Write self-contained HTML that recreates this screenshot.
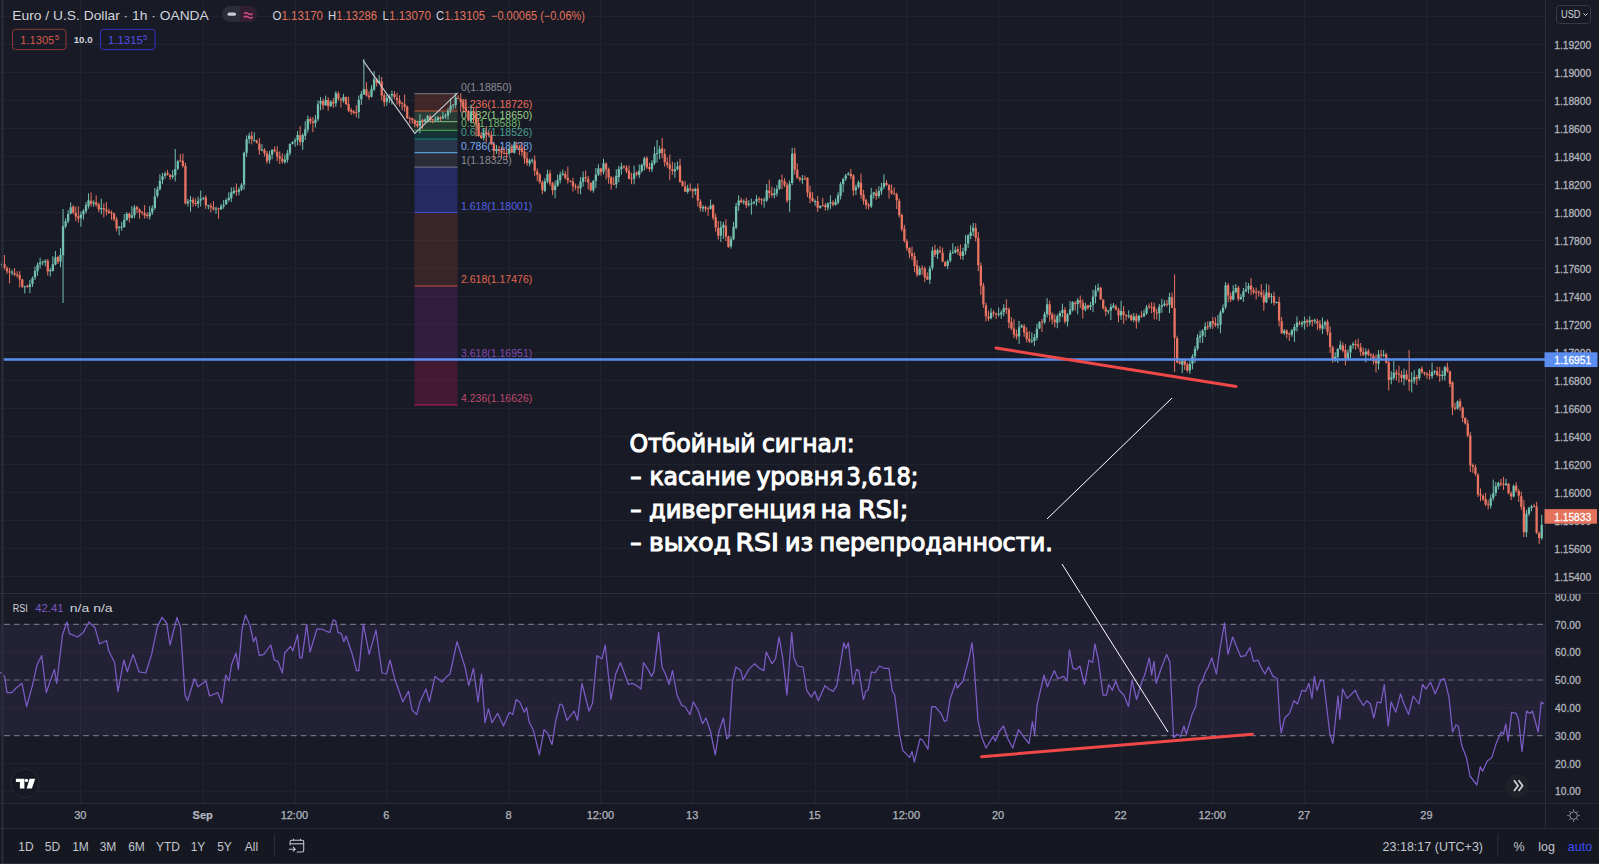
<!DOCTYPE html><html><head><meta charset="utf-8"><style>
html,body{margin:0;padding:0;background:#181a25;width:1599px;height:864px;overflow:hidden}
svg{display:block}
text{font-family:"Liberation Sans", "DejaVu Sans", sans-serif}
</style></head><body>
<svg width="1599" height="864" viewBox="0 0 1599 864">
<rect x="0" y="0" width="1599" height="864" fill="#181a25"/>

<path d="M0 16.6H1545.5 M0 44.6H1545.5 M0 72.6H1545.5 M0 100.6H1545.5 M0 128.6H1545.5 M0 156.6H1545.5 M0 184.6H1545.5 M0 212.6H1545.5 M0 240.6H1545.5 M0 268.6H1545.5 M0 296.6H1545.5 M0 324.6H1545.5 M0 352.6H1545.5 M0 380.6H1545.5 M0 408.6H1545.5 M0 436.6H1545.5 M0 464.6H1545.5 M0 492.6H1545.5 M0 520.6H1545.5 M0 548.6H1545.5 M0 576.6H1545.5 M80.5 0V593.5 M203.5 0V593.5 M295.5 0V593.5 M386.5 0V593.5 M509.5 0V593.5 M600.5 0V593.5 M692.5 0V593.5 M815.5 0V593.5 M906.5 0V593.5 M998.5 0V593.5 M1121.5 0V593.5 M1212.5 0V593.5 M1304.5 0V593.5 M1426.5 0V593.5 M0 596.6H1545.5 M0 624.4H1545.5 M0 652.2H1545.5 M0 680.0H1545.5 M0 707.8H1545.5 M0 735.6H1545.5 M0 763.4H1545.5 M0 791.2H1545.5 M80.5 593.5V803.3 M203.5 593.5V803.3 M295.5 593.5V803.3 M386.5 593.5V803.3 M509.5 593.5V803.3 M600.5 593.5V803.3 M692.5 593.5V803.3 M815.5 593.5V803.3 M906.5 593.5V803.3 M998.5 593.5V803.3 M1121.5 593.5V803.3 M1212.5 593.5V803.3 M1304.5 593.5V803.3 M1426.5 593.5V803.3" stroke="#22242f" stroke-width="1" fill="none"/>
<rect x="0" y="624.4" width="1545.5" height="111.2" fill="#7e57c2" fill-opacity="0.11"/>
<line x1="0" y1="624.4" x2="1545.5" y2="624.4" stroke="#6e7082" stroke-width="1.1" stroke-dasharray="5.6 4.29" stroke-dashoffset="5.78"/>
<line x1="0" y1="680.0" x2="1545.5" y2="680.0" stroke="#6e7082" stroke-width="1.1" stroke-dasharray="5.6 4.29" stroke-dashoffset="5.78"/>
<line x1="0" y1="735.6" x2="1545.5" y2="735.6" stroke="#6e7082" stroke-width="1.1" stroke-dasharray="5.6 4.29" stroke-dashoffset="5.78"/>
<rect x="414.5" y="93.6" width="43.0" height="17.4" fill="#e8603a" fill-opacity="0.2"/>
<rect x="414.5" y="111.0" width="43.0" height="10.6" fill="#81c784" fill-opacity="0.2"/>
<rect x="414.5" y="121.6" width="43.0" height="8.7" fill="#4caf50" fill-opacity="0.2"/>
<rect x="414.5" y="130.3" width="43.0" height="8.7" fill="#089981" fill-opacity="0.2"/>
<rect x="414.5" y="139.0" width="43.0" height="13.7" fill="#64b5f6" fill-opacity="0.2"/>
<rect x="414.5" y="152.7" width="43.0" height="14.4" fill="#787b86" fill-opacity="0.2"/>
<rect x="414.5" y="167.1" width="43.0" height="45.4" fill="#4452f0" fill-opacity="0.3"/>
<rect x="414.5" y="212.5" width="43.0" height="73.5" fill="#e8603a" fill-opacity="0.17"/>
<rect x="414.5" y="286.0" width="43.0" height="73.5" fill="#9c27b0" fill-opacity="0.2"/>
<rect x="414.5" y="359.5" width="43.0" height="45.5" fill="#e91e63" fill-opacity="0.2"/>
<line x1="414.5" y1="93.6" x2="457.5" y2="93.6" stroke="#787b86" stroke-width="1.2" stroke-opacity="0.8"/>
<line x1="414.5" y1="111.0" x2="457.5" y2="111.0" stroke="#e8603a" stroke-width="1.2" stroke-opacity="0.8"/>
<line x1="414.5" y1="121.6" x2="457.5" y2="121.6" stroke="#81c784" stroke-width="1.2" stroke-opacity="0.8"/>
<line x1="414.5" y1="130.3" x2="457.5" y2="130.3" stroke="#4caf50" stroke-width="1.2" stroke-opacity="0.8"/>
<line x1="414.5" y1="139.0" x2="457.5" y2="139.0" stroke="#089981" stroke-width="1.2" stroke-opacity="0.8"/>
<line x1="414.5" y1="152.7" x2="457.5" y2="152.7" stroke="#64b5f6" stroke-width="1.2" stroke-opacity="0.8"/>
<line x1="414.5" y1="167.1" x2="457.5" y2="167.1" stroke="#787b86" stroke-width="1.2" stroke-opacity="0.8"/>
<line x1="414.5" y1="212.5" x2="457.5" y2="212.5" stroke="#4452f0" stroke-width="1.2" stroke-opacity="0.8"/>
<line x1="414.5" y1="286.0" x2="457.5" y2="286.0" stroke="#e8603a" stroke-width="1.2" stroke-opacity="0.8"/>
<line x1="414.5" y1="359.5" x2="457.5" y2="359.5" stroke="#9c27b0" stroke-width="1.2" stroke-opacity="0.8"/>
<line x1="414.5" y1="405.0" x2="457.5" y2="405.0" stroke="#e91e63" stroke-width="1.2" stroke-opacity="0.8"/>
<text x="461" y="90.6" font-size="10.5" fill="#8a8d98">0(1.18850)</text>
<text x="461" y="108.0" font-size="10.5" fill="#e8705d">0.236(1.18726)</text>
<text x="461" y="118.6" font-size="10.5" fill="#9bd08a">0.382(1.18650)</text>
<text x="461" y="127.3" font-size="10.5" fill="#6cb86a">0.5(1.18588)</text>
<text x="461" y="136.0" font-size="10.5" fill="#4aa090">0.618(1.18526)</text>
<text x="461" y="149.7" font-size="10.5" fill="#7aaef2">0.786(1.18428)</text>
<text x="461" y="164.1" font-size="10.5" fill="#8a8d98">1(1.18325)</text>
<text x="461" y="209.5" font-size="10.5" fill="#5262ea">1.618(1.18001)</text>
<text x="461" y="283.0" font-size="10.5" fill="#e0684f">2.618(1.17476)</text>
<text x="461" y="356.5" font-size="10.5" fill="#8448b0">3.618(1.16951)</text>
<text x="461" y="402.0" font-size="10.5" fill="#bf4a6c">4.236(1.16626)</text>
<path d="M1.87 262.55V267.54M12.07 269.73V275.42M24.81 285.68V293.44M29.91 279.79V293.16M32.46 276.43V286.90M35.01 266.58V279.98M37.56 262.35V275.64M40.11 257.78V268.52M42.66 260.73V265.27M45.21 259.31V266.28M50.31 267.77V276.46M52.86 256.22V271.57M55.41 250.95V265.38M60.50 248.18V267.43M63.05 209.00V303.00M65.60 218.30V228.18M68.15 210.21V223.22M70.70 202.34V214.29M80.90 211.32V226.67M83.45 209.04V219.54M86.00 202.13V213.56M88.55 193.36V208.60M93.65 200.37V206.79M101.30 198.74V214.26M119.14 226.05V235.38M121.69 221.71V230.64M124.24 214.04V227.68M126.79 212.17V220.84M131.89 206.10V218.49M134.44 204.93V218.36M149.73 206.08V219.53M152.28 205.32V214.99M154.83 187.99V209.89M157.38 186.27V197.70M159.93 174.13V190.62M162.48 172.83V184.04M165.03 171.62V178.67M172.68 170.01V179.12M175.23 149.00V181.40M177.78 159.83V170.13M187.97 198.94V206.54M190.52 195.83V211.79M198.17 196.58V207.80M200.72 190.41V206.60M203.27 196.95V199.93M208.37 204.71V209.40M216.02 206.68V213.80M221.12 203.80V209.96M223.67 199.86V208.69M226.22 198.40V204.83M228.77 192.35V201.71M231.31 187.46V201.98M233.86 187.22V194.44M238.96 187.34V195.20M241.51 183.13V190.97M244.06 151.76V189.68M246.61 135.37V156.92M249.16 132.74V143.67M254.26 132.18V141.82M261.91 144.23V151.35M269.56 150.76V163.52M272.11 149.10V159.17M284.85 154.50V164.03M287.40 149.78V162.65M289.95 143.39V155.67M292.50 141.34V144.43M295.05 138.17V146.60M297.60 131.06V145.44M302.70 133.31V149.77M305.25 121.25V139.88M307.80 115.53V132.74M315.44 114.99V127.48M317.99 100.26V121.25M320.54 97.02V110.22M325.64 95.61V105.75M330.74 100.34V107.17M335.84 91.08V106.87M343.49 93.93V102.67M358.78 95.48V118.45M361.33 91.13V104.95M363.88 59.00V94.96M371.53 85.17V97.48M374.08 71.21V91.15M379.18 74.99V83.86M386.83 94.89V105.72M389.38 94.28V103.10M391.93 90.73V104.55M419.97 114.02V133.36M425.07 118.42V122.20M427.62 114.94V121.55M435.27 116.27V121.60M437.82 116.02V120.82M442.91 111.98V119.05M445.46 113.50V118.81M448.01 108.07V119.52M450.56 98.34V113.16M453.11 104.21V109.47M455.66 93.00V108.52M470.96 104.59V122.73M483.71 128.00V140.63M496.45 144.90V153.91M509.20 146.67V155.50M514.30 141.31V153.62M529.59 158.72V166.45M532.14 158.41V163.39M544.89 178.19V192.19M547.44 169.71V183.39M555.09 180.77V198.14M557.64 174.54V186.80M560.19 171.64V183.40M562.74 169.59V175.80M580.58 177.06V194.40M583.13 171.45V186.63M593.33 179.86V192.77M595.88 168.02V187.98M598.43 164.25V175.95M603.53 158.66V174.38M616.27 169.18V188.13M618.82 165.75V182.21M621.37 162.59V174.78M634.12 165.68V184.33M639.22 164.53V178.16M641.77 163.59V172.83M644.32 156.69V170.50M651.97 160.14V172.08M654.51 146.55V165.00M657.06 140.00V162.62M659.61 145.87V159.42M674.91 162.62V177.90M677.46 161.44V170.33M687.66 184.77V193.71M695.31 187.63V194.95M702.95 205.19V211.94M710.60 199.49V209.70M720.80 221.18V241.91M723.35 221.76V238.91M731.00 236.18V248.60M733.55 221.75V240.16M736.10 203.01V229.23M738.65 195.33V211.01M743.74 199.47V204.46M748.84 200.04V206.53M751.39 198.57V214.54M753.94 201.20V204.47M756.49 195.14V205.80M764.14 197.67V207.71M766.69 184.06V201.86M774.34 187.94V198.40M776.89 185.22V196.60M779.44 179.31V189.91M789.63 180.47V211.84M792.18 147.80V185.03M802.38 175.09V183.97M815.13 199.49V205.71M820.23 205.28V208.77M827.87 202.44V210.58M830.42 195.22V209.07M835.52 198.59V205.67M838.07 192.25V204.39M840.62 182.03V199.50M843.17 177.77V192.34M845.72 173.87V181.06M848.27 171.87V175.46M855.92 184.78V194.85M858.47 180.54V188.48M871.21 187.88V207.96M873.76 191.83V198.56M878.86 186.28V198.35M881.41 182.83V194.86M883.96 174.34V189.15M919.65 266.28V275.52M929.85 265.73V283.91M932.40 246.83V270.27M937.50 248.55V258.80M947.70 259.59V269.13M950.25 250.05V262.49M952.79 243.29V254.03M955.34 246.50V253.28M962.99 247.70V260.04M965.54 234.95V254.68M968.09 234.05V248.08M970.64 225.10V239.25M973.19 222.75V236.17M991.04 308.28V319.35M998.68 307.65V316.56M1001.23 310.27V318.87M1003.78 304.24V316.32M1019.08 320.90V343.91M1021.63 324.13V328.15M1031.83 332.28V343.19M1034.38 333.97V345.96M1036.92 323.66V340.39M1039.47 321.16V329.04M1044.57 311.59V323.88M1047.12 298.12V317.24M1057.32 314.35V328.22M1059.87 310.97V322.24M1062.42 303.68V317.24M1067.52 312.97V326.53M1070.07 301.13V315.28M1072.62 301.16V311.57M1077.72 298.22V314.42M1085.36 302.45V311.45M1090.46 301.92V310.04M1093.01 289.78V312.23M1095.56 285.40V303.42M1098.11 283.47V291.93M1108.31 309.86V314.41M1110.86 303.70V320.19M1113.41 303.02V308.26M1121.06 300.81V319.93M1128.70 310.36V318.42M1133.80 313.00V322.34M1138.90 314.72V322.89M1144.00 309.65V317.12M1146.55 305.03V314.88M1159.30 303.91V320.97M1161.85 298.91V312.71M1164.39 300.12V306.44M1169.49 292.76V313.10M1182.24 360.06V373.15M1189.89 360.02V373.99M1192.44 354.22V369.43M1194.99 345.86V362.95M1197.54 334.06V350.74M1200.09 330.64V342.86M1202.64 329.13V343.00M1205.19 322.35V337.12M1210.28 321.13V328.96M1217.93 315.14V328.47M1220.48 310.23V333.24M1223.03 304.33V313.48M1225.58 281.96V309.24M1233.23 285.11V300.30M1235.78 283.99V293.36M1240.88 294.00V299.77M1243.43 287.96V301.90M1245.98 282.19V292.21M1248.53 283.08V293.63M1266.37 283.73V303.15M1271.47 293.42V303.54M1276.57 301.49V303.52M1284.22 329.17V335.19M1291.87 329.18V336.83M1294.41 323.87V341.93M1296.96 316.37V331.57M1302.06 320.78V327.20M1304.61 316.62V329.60M1309.71 316.24V325.71M1314.81 318.46V323.80M1322.46 317.47V334.06M1325.01 320.64V329.27M1335.20 352.31V361.91M1337.75 347.92V362.99M1340.30 340.81V350.09M1347.95 349.33V359.56M1350.50 344.80V358.31M1353.05 342.06V348.93M1365.80 348.53V362.48M1378.54 350.06V369.56M1383.64 350.14V356.91M1391.29 371.41V384.27M1393.84 361.01V380.25M1404.04 368.61V385.37M1411.69 371.98V392.40M1414.24 370.27V383.71M1419.34 368.13V380.49M1432.08 362.42V378.81M1434.63 370.08V374.66M1442.28 370.44V380.29M1444.83 365.66V380.59M1457.58 400.31V409.63M1490.72 494.41V508.50M1493.27 479.57V500.66M1495.82 482.02V495.94M1498.37 481.60V489.45M1506.01 478.81V486.13M1513.66 484.36V497.46M1526.41 510.09V537.15M1528.96 506.68V515.97M1531.51 504.77V511.27M1541.71 514.79V539.90" stroke="#72c0af" stroke-width="1" fill="none"/>
<path d="M4.42 255.02V269.54M6.97 266.18V273.95M9.52 267.78V283.37M14.62 268.16V276.28M17.17 271.23V277.67M19.71 271.17V287.49M22.26 278.81V288.07M27.36 284.70V287.86M47.76 258.99V275.59M57.96 255.95V264.02M73.25 205.01V214.15M75.80 206.52V220.91M78.35 206.20V222.53M91.10 192.43V206.69M96.20 195.46V206.63M98.75 202.68V212.07M103.84 203.39V217.44M106.39 202.07V215.38M108.94 208.60V213.93M111.49 210.52V219.73M114.04 212.69V221.20M116.59 216.92V231.37M129.34 212.78V222.50M136.99 205.72V213.29M139.54 208.44V218.80M142.09 211.30V214.84M144.64 205.05V218.59M147.18 212.31V218.42M167.58 169.84V175.70M170.13 174.02V179.89M180.33 154.06V162.05M182.88 153.67V167.61M185.43 162.78V204.39M193.07 197.38V206.72M195.62 198.48V206.02M205.82 195.04V208.84M210.92 203.07V212.42M213.47 201.15V210.61M218.57 207.67V218.78M236.41 183.43V195.94M251.71 131.32V144.37M256.81 139.70V143.76M259.36 137.98V154.67M264.46 148.26V156.54M267.01 150.90V163.70M274.65 146.49V152.50M277.20 145.98V161.41M279.75 151.44V164.04M282.30 153.27V163.40M300.15 126.03V145.53M310.35 116.77V124.44M312.90 117.02V132.17M323.09 98.59V109.62M328.19 97.38V110.71M333.29 97.88V107.80M338.39 91.49V100.75M340.94 97.55V107.59M346.04 96.39V104.84M348.59 96.66V112.19M351.14 108.03V114.92M353.69 110.04V114.52M356.24 105.27V117.27M366.43 82.19V96.70M368.98 91.31V99.63M376.63 77.76V86.53M381.73 76.86V100.29M384.28 93.19V106.50M394.48 91.29V99.24M397.03 92.70V104.80M399.57 95.37V106.72M402.12 102.09V110.17M404.67 94.53V111.67M407.22 105.50V119.02M409.77 116.69V123.84M412.32 117.66V123.53M414.87 119.20V127.21M417.42 120.77V127.68M422.52 118.72V128.88M430.17 114.67V121.82M432.72 118.84V123.28M440.37 116.12V121.68M458.21 95.28V99.09M460.76 93.00V112.36M463.31 98.87V112.60M465.86 98.61V112.28M468.41 110.03V121.60M473.51 107.67V122.25M476.06 106.85V136.40M478.61 118.48V136.74M481.16 132.16V138.76M486.25 126.53V142.22M488.80 131.43V136.60M491.35 130.77V144.97M493.90 143.31V160.03M499.00 145.97V155.62M501.55 146.82V157.59M504.10 147.30V154.47M506.65 149.72V159.21M511.75 144.61V153.04M516.85 141.84V149.81M519.40 144.88V155.22M521.95 141.87V155.81M524.50 146.40V163.84M527.04 152.20V165.86M534.69 155.36V175.83M537.24 168.36V181.20M539.79 173.14V183.85M542.34 180.39V194.29M549.99 170.20V185.79M552.54 181.90V195.16M565.29 171.00V179.59M567.84 166.56V183.67M570.38 180.34V182.26M572.93 177.67V191.58M575.48 183.62V189.86M578.03 184.81V193.78M585.68 170.48V181.91M588.23 175.96V189.50M590.78 182.00V191.48M600.98 167.81V175.66M606.08 162.42V179.59M608.63 167.62V183.79M611.18 176.02V189.59M613.72 176.93V184.97M623.92 165.03V168.58M626.47 165.30V173.14M629.02 165.47V179.43M631.57 172.94V184.21M636.67 171.37V176.33M646.87 156.18V169.19M649.42 162.74V171.51M662.16 137.92V158.31M664.71 148.72V166.39M667.26 157.30V167.71M669.81 154.45V180.22M672.36 161.84V174.87M680.01 158.66V182.79M682.56 180.42V186.65M685.11 181.07V192.12M690.21 183.38V191.38M692.76 188.34V198.04M697.85 183.33V206.59M700.40 199.18V211.34M705.50 205.52V211.63M708.05 206.55V215.87M713.15 204.13V220.09M715.70 213.71V231.67M718.25 220.90V239.53M725.90 219.32V241.12M728.45 235.45V247.80M741.19 197.70V203.16M746.29 197.74V208.17M759.04 196.81V203.02M761.59 198.28V204.88M769.24 179.72V198.25M771.79 186.62V197.15M781.99 174.54V189.09M784.53 178.03V187.08M787.08 182.52V202.77M794.73 147.74V174.59M797.28 163.34V178.99M799.83 176.60V181.66M804.93 175.50V179.77M807.48 177.27V197.08M810.03 185.72V203.37M812.58 191.94V202.08M817.68 195.92V212.01M822.78 197.69V206.31M825.32 202.95V210.54M832.97 200.22V206.56M850.82 168.86V179.07M853.37 174.22V196.04M861.02 173.53V198.70M863.57 189.81V204.55M866.12 198.70V208.96M868.66 202.98V209.50M876.31 188.84V199.69M886.51 180.25V186.11M889.06 184.03V198.65M891.61 184.41V194.69M894.16 187.39V195.14M896.71 192.70V209.00M899.26 198.70V217.37M901.81 213.74V231.37M904.36 224.78V242.56M906.91 239.08V250.91M909.45 247.17V258.30M912.00 246.60V259.94M914.55 252.57V272.13M917.10 259.96V276.83M922.20 265.50V274.78M924.75 266.55V282.06M927.30 272.30V279.94M934.95 244.81V257.03M940.05 245.97V253.23M942.60 247.48V262.50M945.15 261.07V266.87M957.89 245.90V254.72M960.44 244.55V259.25M975.74 223.14V241.52M978.29 231.90V271.09M980.84 262.54V294.87M983.39 282.81V307.96M985.94 302.80V321.41M988.49 310.71V321.00M993.59 310.26V316.78M996.13 312.61V319.10M1006.33 299.22V313.96M1008.88 307.61V328.24M1011.43 317.01V330.28M1013.98 319.33V338.13M1016.53 329.74V339.50M1024.18 323.91V336.80M1026.73 327.41V342.31M1029.28 331.06V342.98M1042.02 318.85V332.12M1049.67 300.68V321.66M1052.22 312.32V324.49M1054.77 314.28V327.36M1064.97 307.12V323.74M1075.17 300.97V310.70M1080.26 295.49V307.88M1082.81 299.39V318.57M1087.91 304.70V309.71M1100.66 286.76V300.05M1103.21 298.92V309.50M1105.76 306.13V316.11M1115.96 304.48V310.47M1118.51 307.80V322.35M1123.60 306.10V323.85M1126.15 314.16V320.56M1131.25 314.25V321.18M1136.35 313.41V328.67M1141.45 311.11V317.75M1149.10 303.38V308.94M1151.65 302.07V313.26M1154.20 302.70V319.59M1156.75 308.73V319.38M1166.94 299.78V306.66M1172.04 292.60V308.27M1174.59 274.40V372.00M1177.14 335.69V363.19M1179.69 360.39V364.69M1184.79 359.74V370.00M1187.34 362.49V372.36M1207.73 321.44V329.73M1212.83 316.95V328.92M1215.38 317.29V326.99M1228.13 282.92V302.30M1230.68 292.25V302.05M1238.33 285.75V301.14M1251.07 277.92V295.31M1253.62 287.55V294.32M1256.17 287.51V299.49M1258.72 290.41V296.65M1261.27 284.19V297.70M1263.82 290.00V310.93M1268.92 284.78V298.81M1274.02 291.70V305.50M1279.12 296.81V326.49M1281.67 317.06V334.06M1286.77 329.24V338.27M1289.32 332.39V340.90M1299.51 320.92V325.13M1307.16 318.95V327.16M1312.26 319.42V326.36M1317.36 318.68V329.78M1319.91 319.95V330.61M1327.56 319.51V335.39M1330.11 326.39V352.98M1332.66 345.70V362.86M1342.85 342.57V352.36M1345.40 344.14V365.44M1355.60 339.81V349.82M1358.15 338.60V348.61M1360.70 343.06V356.19M1363.25 347.48V356.29M1368.35 348.95V356.34M1370.90 353.28V359.44M1373.45 353.58V364.44M1376.00 354.37V372.47M1381.09 349.55V358.95M1386.19 352.81V363.60M1388.74 358.01V390.48M1396.39 369.63V380.47M1398.94 365.71V382.72M1401.49 370.78V382.45M1406.59 369.97V380.37M1409.14 350.00V390.83M1416.79 375.04V384.94M1421.88 366.17V373.79M1424.43 371.77V375.63M1426.98 372.17V378.72M1429.53 370.02V379.65M1437.18 366.63V376.48M1439.73 366.96V381.91M1447.38 362.59V372.75M1449.93 370.61V387.13M1452.48 381.35V415.12M1455.03 402.72V410.32M1460.13 398.56V410.92M1462.67 406.83V422.18M1465.22 417.18V424.53M1467.77 419.93V437.18M1470.32 432.04V472.04M1472.87 463.51V472.76M1475.42 464.60V475.91M1477.97 472.84V497.00M1480.52 488.48V501.30M1483.07 493.90V500.79M1485.62 492.93V506.20M1488.17 499.95V509.49M1500.92 478.94V486.18M1503.47 476.73V490.10M1508.56 482.96V494.45M1511.11 491.44V500.18M1516.21 482.20V492.37M1518.76 488.96V501.99M1521.31 491.69V509.76M1523.86 500.06V537.00M1534.06 503.71V507.32M1536.61 501.83V533.98M1539.16 531.50V544.00" stroke="#e97461" stroke-width="1" fill="none"/>
<path d="M0.72 264.10h2.3V265.10h-2.3ZM10.92 271.81h2.3V272.81h-2.3ZM23.66 286.29h2.3V287.35h-2.3ZM28.76 284.26h2.3V286.92h-2.3ZM31.31 278.21h2.3V283.90h-2.3ZM33.86 271.03h2.3V277.60h-2.3ZM36.41 264.65h2.3V271.23h-2.3ZM38.96 262.45h2.3V264.56h-2.3ZM41.51 261.56h2.3V262.56h-2.3ZM44.06 260.79h2.3V262.28h-2.3ZM49.16 269.93h2.3V271.35h-2.3ZM51.71 264.32h2.3V270.83h-2.3ZM54.26 257.28h2.3V264.41h-2.3ZM59.35 254.94h2.3V261.47h-2.3ZM61.90 226.33h2.3V255.20h-2.3ZM64.45 221.15h2.3V226.41h-2.3ZM67.00 214.09h2.3V221.35h-2.3ZM69.55 207.14h2.3V213.68h-2.3ZM79.75 214.53h2.3V218.36h-2.3ZM82.30 210.93h2.3V214.44h-2.3ZM84.85 205.18h2.3V211.13h-2.3ZM87.40 200.36h2.3V205.95h-2.3ZM92.50 202.52h2.3V203.69h-2.3ZM100.15 208.02h2.3V209.14h-2.3ZM117.99 226.67h2.3V227.87h-2.3ZM120.54 226.85h2.3V227.85h-2.3ZM123.09 220.02h2.3V226.96h-2.3ZM125.64 213.78h2.3V219.99h-2.3ZM130.74 215.27h2.3V217.72h-2.3ZM133.29 207.46h2.3V215.17h-2.3ZM148.58 212.56h2.3V216.18h-2.3ZM151.13 208.35h2.3V212.44h-2.3ZM153.68 196.38h2.3V207.99h-2.3ZM156.23 189.23h2.3V195.79h-2.3ZM158.78 180.66h2.3V189.36h-2.3ZM161.33 176.20h2.3V180.05h-2.3ZM163.88 173.78h2.3V175.72h-2.3ZM171.53 175.21h2.3V177.00h-2.3ZM174.08 168.90h2.3V175.37h-2.3ZM176.63 161.31h2.3V168.84h-2.3ZM186.82 201.53h2.3V203.28h-2.3ZM189.37 200.05h2.3V201.52h-2.3ZM197.02 200.79h2.3V203.67h-2.3ZM199.57 198.89h2.3V200.60h-2.3ZM202.12 197.87h2.3V198.87h-2.3ZM207.22 205.02h2.3V206.02h-2.3ZM214.87 208.87h2.3V209.87h-2.3ZM219.97 206.20h2.3V209.14h-2.3ZM222.52 204.96h2.3V206.33h-2.3ZM225.07 199.96h2.3V204.27h-2.3ZM227.62 197.85h2.3V200.00h-2.3ZM230.16 192.14h2.3V198.18h-2.3ZM232.71 190.66h2.3V192.98h-2.3ZM237.81 189.58h2.3V191.87h-2.3ZM240.36 184.79h2.3V189.41h-2.3ZM242.91 152.76h2.3V184.84h-2.3ZM245.46 139.20h2.3V152.75h-2.3ZM248.01 135.77h2.3V139.10h-2.3ZM253.11 139.92h2.3V140.92h-2.3ZM260.76 149.61h2.3V150.61h-2.3ZM268.41 154.68h2.3V160.36h-2.3ZM270.96 149.86h2.3V154.74h-2.3ZM283.70 159.53h2.3V161.91h-2.3ZM286.25 152.99h2.3V159.70h-2.3ZM288.80 144.02h2.3V153.13h-2.3ZM291.35 142.10h2.3V143.82h-2.3ZM293.90 140.29h2.3V141.87h-2.3ZM296.45 134.93h2.3V140.37h-2.3ZM301.55 135.02h2.3V142.21h-2.3ZM304.10 129.17h2.3V135.70h-2.3ZM306.65 119.03h2.3V129.44h-2.3ZM314.29 119.42h2.3V123.34h-2.3ZM316.84 104.13h2.3V119.33h-2.3ZM319.39 100.99h2.3V103.77h-2.3ZM324.49 100.09h2.3V105.18h-2.3ZM329.59 101.77h2.3V106.05h-2.3ZM334.69 93.34h2.3V103.23h-2.3ZM342.34 96.95h2.3V100.72h-2.3ZM357.63 99.66h2.3V111.90h-2.3ZM360.18 94.11h2.3V99.24h-2.3ZM362.73 89.13h2.3V94.23h-2.3ZM370.38 88.83h2.3V96.82h-2.3ZM372.93 79.24h2.3V89.52h-2.3ZM378.03 80.73h2.3V82.91h-2.3ZM385.68 98.01h2.3V101.85h-2.3ZM388.23 96.20h2.3V98.35h-2.3ZM390.78 93.89h2.3V95.58h-2.3ZM418.82 120.72h2.3V125.84h-2.3ZM423.92 119.59h2.3V121.07h-2.3ZM426.47 116.08h2.3V119.38h-2.3ZM434.12 119.46h2.3V120.46h-2.3ZM436.67 117.60h2.3V120.14h-2.3ZM441.76 116.55h2.3V118.44h-2.3ZM444.31 115.37h2.3V116.37h-2.3ZM446.86 110.75h2.3V115.55h-2.3ZM449.41 105.75h2.3V110.44h-2.3ZM451.96 104.41h2.3V105.41h-2.3ZM454.51 97.49h2.3V105.12h-2.3ZM469.81 111.56h2.3V121.31h-2.3ZM482.56 133.01h2.3V138.23h-2.3ZM495.30 149.30h2.3V150.91h-2.3ZM508.05 149.19h2.3V153.60h-2.3ZM513.15 145.58h2.3V152.82h-2.3ZM528.44 160.59h2.3V163.39h-2.3ZM530.99 159.72h2.3V160.72h-2.3ZM543.74 181.23h2.3V190.85h-2.3ZM546.29 174.25h2.3V181.60h-2.3ZM553.94 185.58h2.3V189.93h-2.3ZM556.49 179.73h2.3V185.40h-2.3ZM559.04 174.82h2.3V179.90h-2.3ZM561.59 173.60h2.3V174.63h-2.3ZM579.43 181.59h2.3V188.13h-2.3ZM581.98 177.60h2.3V181.65h-2.3ZM592.18 181.03h2.3V190.26h-2.3ZM594.73 174.64h2.3V181.02h-2.3ZM597.28 168.20h2.3V174.74h-2.3ZM602.38 163.37h2.3V171.59h-2.3ZM615.12 175.83h2.3V184.28h-2.3ZM617.67 168.98h2.3V176.91h-2.3ZM620.22 166.83h2.3V169.20h-2.3ZM632.97 173.22h2.3V178.71h-2.3ZM638.07 170.72h2.3V175.08h-2.3ZM640.62 164.92h2.3V171.09h-2.3ZM643.17 158.48h2.3V165.60h-2.3ZM650.82 163.08h2.3V169.21h-2.3ZM653.37 153.82h2.3V163.31h-2.3ZM655.91 153.01h2.3V154.01h-2.3ZM658.46 149.23h2.3V152.91h-2.3ZM673.76 169.16h2.3V171.49h-2.3ZM676.31 166.51h2.3V169.15h-2.3ZM686.51 188.24h2.3V191.93h-2.3ZM694.16 188.99h2.3V191.04h-2.3ZM701.80 206.96h2.3V208.40h-2.3ZM709.45 205.39h2.3V208.65h-2.3ZM719.65 227.25h2.3V235.65h-2.3ZM722.20 224.75h2.3V227.85h-2.3ZM729.85 239.27h2.3V246.32h-2.3ZM732.40 226.81h2.3V239.36h-2.3ZM734.95 206.23h2.3V227.75h-2.3ZM737.50 200.60h2.3V205.46h-2.3ZM742.59 201.15h2.3V202.15h-2.3ZM747.69 203.97h2.3V204.97h-2.3ZM750.24 202.96h2.3V203.96h-2.3ZM752.79 201.83h2.3V203.31h-2.3ZM755.34 199.09h2.3V201.49h-2.3ZM762.99 199.75h2.3V200.75h-2.3ZM765.54 190.22h2.3V200.41h-2.3ZM773.19 193.31h2.3V195.36h-2.3ZM775.74 189.09h2.3V193.47h-2.3ZM778.29 180.36h2.3V188.84h-2.3ZM788.48 183.85h2.3V199.98h-2.3ZM791.03 153.63h2.3V183.10h-2.3ZM801.23 179.10h2.3V180.10h-2.3ZM813.98 201.00h2.3V202.00h-2.3ZM819.08 205.97h2.3V207.83h-2.3ZM826.72 203.47h2.3V207.47h-2.3ZM829.27 202.26h2.3V203.48h-2.3ZM834.37 201.63h2.3V205.09h-2.3ZM836.92 195.36h2.3V202.50h-2.3ZM839.47 184.13h2.3V195.66h-2.3ZM842.02 178.91h2.3V184.16h-2.3ZM844.57 175.48h2.3V178.84h-2.3ZM847.12 173.75h2.3V174.80h-2.3ZM854.77 187.28h2.3V190.16h-2.3ZM857.32 182.20h2.3V187.12h-2.3ZM870.06 194.75h2.3V206.21h-2.3ZM872.61 192.58h2.3V194.49h-2.3ZM877.71 191.11h2.3V195.92h-2.3ZM880.26 187.30h2.3V191.18h-2.3ZM882.81 183.11h2.3V187.09h-2.3ZM918.50 268.74h2.3V274.64h-2.3ZM928.70 268.38h2.3V279.63h-2.3ZM931.25 250.83h2.3V268.06h-2.3ZM936.35 250.34h2.3V254.37h-2.3ZM946.55 261.19h2.3V265.67h-2.3ZM949.10 253.02h2.3V260.66h-2.3ZM951.64 252.16h2.3V253.16h-2.3ZM954.19 249.90h2.3V252.44h-2.3ZM961.84 251.27h2.3V256.03h-2.3ZM964.39 243.97h2.3V251.02h-2.3ZM966.94 235.60h2.3V243.69h-2.3ZM969.49 232.15h2.3V236.08h-2.3ZM972.04 227.71h2.3V231.46h-2.3ZM989.89 312.64h2.3V318.32h-2.3ZM997.53 313.80h2.3V314.80h-2.3ZM1000.08 312.50h2.3V314.45h-2.3ZM1002.63 308.35h2.3V312.28h-2.3ZM1017.93 327.23h2.3V336.40h-2.3ZM1020.48 325.57h2.3V326.89h-2.3ZM1030.68 340.81h2.3V341.81h-2.3ZM1033.23 337.26h2.3V340.97h-2.3ZM1035.77 328.74h2.3V337.72h-2.3ZM1038.32 322.33h2.3V328.49h-2.3ZM1043.42 313.93h2.3V322.13h-2.3ZM1045.97 304.22h2.3V314.06h-2.3ZM1056.17 316.20h2.3V322.77h-2.3ZM1058.72 312.88h2.3V316.61h-2.3ZM1061.27 309.63h2.3V312.88h-2.3ZM1066.37 314.50h2.3V321.52h-2.3ZM1068.92 309.55h2.3V314.30h-2.3ZM1071.47 302.07h2.3V309.94h-2.3ZM1076.57 300.16h2.3V304.09h-2.3ZM1084.21 305.70h2.3V309.57h-2.3ZM1089.31 305.15h2.3V307.08h-2.3ZM1091.86 296.38h2.3V304.98h-2.3ZM1094.41 290.54h2.3V296.49h-2.3ZM1096.96 287.67h2.3V290.33h-2.3ZM1107.16 310.47h2.3V311.47h-2.3ZM1109.71 306.98h2.3V310.55h-2.3ZM1112.26 305.58h2.3V307.51h-2.3ZM1119.91 310.89h2.3V315.41h-2.3ZM1127.55 315.64h2.3V316.64h-2.3ZM1132.65 316.62h2.3V320.08h-2.3ZM1137.75 315.75h2.3V320.48h-2.3ZM1142.85 313.32h2.3V316.17h-2.3ZM1145.40 307.22h2.3V313.26h-2.3ZM1158.15 306.68h2.3V313.24h-2.3ZM1160.70 305.25h2.3V306.69h-2.3ZM1163.24 303.73h2.3V305.62h-2.3ZM1168.34 297.03h2.3V304.64h-2.3ZM1181.09 360.93h2.3V364.70h-2.3ZM1188.74 363.90h2.3V370.50h-2.3ZM1191.29 356.62h2.3V363.69h-2.3ZM1193.84 348.84h2.3V356.31h-2.3ZM1196.39 337.29h2.3V348.81h-2.3ZM1198.94 335.39h2.3V337.38h-2.3ZM1201.49 330.53h2.3V335.83h-2.3ZM1204.04 326.56h2.3V330.11h-2.3ZM1209.13 321.63h2.3V326.85h-2.3ZM1216.78 324.27h2.3V325.27h-2.3ZM1219.33 312.54h2.3V324.71h-2.3ZM1221.88 307.69h2.3V312.59h-2.3ZM1224.43 285.36h2.3V307.28h-2.3ZM1232.08 291.15h2.3V299.73h-2.3ZM1234.63 288.10h2.3V291.89h-2.3ZM1239.73 297.02h2.3V299.25h-2.3ZM1242.28 291.26h2.3V296.88h-2.3ZM1244.83 289.28h2.3V291.29h-2.3ZM1247.38 286.08h2.3V289.28h-2.3ZM1265.22 292.62h2.3V302.17h-2.3ZM1270.32 296.10h2.3V297.10h-2.3ZM1275.42 302.10h2.3V303.10h-2.3ZM1283.07 330.53h2.3V332.90h-2.3ZM1290.71 330.26h2.3V334.75h-2.3ZM1293.26 327.00h2.3V330.73h-2.3ZM1295.81 322.40h2.3V327.02h-2.3ZM1300.91 322.61h2.3V324.25h-2.3ZM1303.46 320.88h2.3V323.13h-2.3ZM1308.56 320.30h2.3V322.54h-2.3ZM1313.66 320.36h2.3V321.36h-2.3ZM1321.31 325.19h2.3V328.69h-2.3ZM1323.86 322.21h2.3V325.09h-2.3ZM1334.05 357.11h2.3V359.35h-2.3ZM1336.60 349.09h2.3V357.11h-2.3ZM1339.15 344.70h2.3V348.98h-2.3ZM1346.80 352.74h2.3V358.82h-2.3ZM1349.35 345.64h2.3V352.49h-2.3ZM1351.90 343.86h2.3V345.37h-2.3ZM1364.65 351.66h2.3V354.64h-2.3ZM1377.39 354.41h2.3V363.71h-2.3ZM1382.49 354.82h2.3V355.82h-2.3ZM1390.14 377.50h2.3V379.46h-2.3ZM1392.69 372.69h2.3V377.98h-2.3ZM1402.89 374.70h2.3V378.58h-2.3ZM1410.54 380.20h2.3V381.46h-2.3ZM1413.09 377.08h2.3V380.46h-2.3ZM1418.18 369.15h2.3V378.29h-2.3ZM1430.93 371.92h2.3V376.22h-2.3ZM1433.48 371.13h2.3V372.13h-2.3ZM1441.13 375.12h2.3V376.12h-2.3ZM1443.68 367.32h2.3V375.82h-2.3ZM1456.43 401.50h2.3V408.62h-2.3ZM1489.57 498.25h2.3V505.74h-2.3ZM1492.12 493.19h2.3V497.90h-2.3ZM1494.67 486.20h2.3V493.12h-2.3ZM1497.22 482.91h2.3V486.44h-2.3ZM1504.86 483.86h2.3V484.97h-2.3ZM1512.51 485.97h2.3V496.53h-2.3ZM1525.26 513.71h2.3V532.16h-2.3ZM1527.81 508.09h2.3V514.01h-2.3ZM1530.36 506.44h2.3V507.92h-2.3ZM1540.56 524.72h2.3V538.25h-2.3Z" fill="#72c0af"/>
<path d="M3.27 264.09h2.3V267.77h-2.3ZM5.82 268.13h2.3V271.16h-2.3ZM8.37 271.16h2.3V272.38h-2.3ZM13.47 272.98h2.3V274.59h-2.3ZM16.02 274.42h2.3V275.42h-2.3ZM18.56 275.11h2.3V279.56h-2.3ZM21.11 279.49h2.3V286.82h-2.3ZM26.21 285.76h2.3V286.76h-2.3ZM46.61 260.82h2.3V271.61h-2.3ZM56.81 256.89h2.3V261.80h-2.3ZM72.10 206.85h2.3V212.81h-2.3ZM74.65 213.09h2.3V216.47h-2.3ZM77.20 216.32h2.3V218.40h-2.3ZM89.95 200.63h2.3V203.77h-2.3ZM95.05 202.39h2.3V204.74h-2.3ZM97.60 204.44h2.3V209.28h-2.3ZM102.69 208.12h2.3V209.41h-2.3ZM105.24 209.42h2.3V211.49h-2.3ZM107.79 211.00h2.3V213.12h-2.3ZM110.34 212.32h2.3V213.49h-2.3ZM112.89 213.61h2.3V219.50h-2.3ZM115.44 219.48h2.3V228.54h-2.3ZM128.19 213.60h2.3V217.87h-2.3ZM135.84 207.01h2.3V209.30h-2.3ZM138.39 209.40h2.3V212.39h-2.3ZM140.94 211.74h2.3V212.74h-2.3ZM143.49 212.96h2.3V215.55h-2.3ZM146.03 214.98h2.3V215.98h-2.3ZM166.43 172.99h2.3V174.78h-2.3ZM168.98 174.92h2.3V176.99h-2.3ZM179.18 160.46h2.3V161.46h-2.3ZM181.73 160.67h2.3V166.04h-2.3ZM184.28 166.01h2.3V203.54h-2.3ZM191.92 199.65h2.3V203.03h-2.3ZM194.47 203.01h2.3V204.01h-2.3ZM204.67 197.30h2.3V205.30h-2.3ZM209.77 205.77h2.3V207.48h-2.3ZM212.32 207.16h2.3V209.28h-2.3ZM217.42 208.30h2.3V209.30h-2.3ZM235.26 190.72h2.3V191.92h-2.3ZM250.56 135.84h2.3V139.56h-2.3ZM255.66 140.66h2.3V142.87h-2.3ZM258.21 143.49h2.3V150.16h-2.3ZM263.31 149.82h2.3V153.24h-2.3ZM265.86 153.25h2.3V161.22h-2.3ZM273.50 149.67h2.3V151.28h-2.3ZM276.05 151.76h2.3V156.38h-2.3ZM278.60 156.13h2.3V158.75h-2.3ZM281.15 158.71h2.3V161.53h-2.3ZM299.00 135.16h2.3V141.89h-2.3ZM309.20 119.00h2.3V121.46h-2.3ZM311.75 121.42h2.3V123.09h-2.3ZM321.94 100.98h2.3V105.23h-2.3ZM327.04 100.06h2.3V106.19h-2.3ZM332.14 101.80h2.3V103.39h-2.3ZM337.24 93.48h2.3V98.65h-2.3ZM339.79 99.40h2.3V100.40h-2.3ZM344.89 97.13h2.3V104.15h-2.3ZM347.44 104.03h2.3V110.83h-2.3ZM349.99 109.95h2.3V111.66h-2.3ZM352.54 111.37h2.3V112.99h-2.3ZM355.09 112.07h2.3V113.07h-2.3ZM365.28 89.36h2.3V95.46h-2.3ZM367.83 95.51h2.3V96.91h-2.3ZM375.48 79.59h2.3V83.02h-2.3ZM380.58 81.71h2.3V95.58h-2.3ZM383.13 95.23h2.3V102.18h-2.3ZM393.33 94.19h2.3V96.91h-2.3ZM395.88 97.66h2.3V99.92h-2.3ZM398.43 100.27h2.3V103.39h-2.3ZM400.97 102.80h2.3V103.80h-2.3ZM403.52 104.17h2.3V106.97h-2.3ZM406.07 106.86h2.3V117.89h-2.3ZM408.62 118.00h2.3V119.02h-2.3ZM411.17 118.16h2.3V120.31h-2.3ZM413.72 120.37h2.3V123.94h-2.3ZM416.27 123.68h2.3V126.11h-2.3ZM421.37 119.95h2.3V120.95h-2.3ZM429.02 116.38h2.3V119.98h-2.3ZM431.57 119.28h2.3V120.28h-2.3ZM439.22 117.55h2.3V118.88h-2.3ZM457.06 97.88h2.3V98.88h-2.3ZM459.61 98.98h2.3V102.01h-2.3ZM462.16 102.06h2.3V107.41h-2.3ZM464.71 107.16h2.3V111.38h-2.3ZM467.26 111.00h2.3V120.37h-2.3ZM472.36 111.49h2.3V113.79h-2.3ZM474.91 113.60h2.3V123.43h-2.3ZM477.46 123.06h2.3V135.90h-2.3ZM480.01 135.49h2.3V138.03h-2.3ZM485.10 132.28h2.3V134.34h-2.3ZM487.65 133.47h2.3V135.10h-2.3ZM490.20 134.95h2.3V144.19h-2.3ZM492.75 144.19h2.3V150.97h-2.3ZM497.85 149.39h2.3V151.03h-2.3ZM500.40 150.83h2.3V152.63h-2.3ZM502.95 152.75h2.3V153.75h-2.3ZM505.50 152.94h2.3V153.94h-2.3ZM510.60 148.49h2.3V152.46h-2.3ZM515.70 145.50h2.3V147.78h-2.3ZM518.25 147.37h2.3V148.37h-2.3ZM520.80 148.06h2.3V152.04h-2.3ZM523.35 151.45h2.3V158.38h-2.3ZM525.89 158.47h2.3V162.88h-2.3ZM533.54 160.46h2.3V170.83h-2.3ZM536.09 171.37h2.3V174.88h-2.3ZM538.64 174.83h2.3V181.90h-2.3ZM541.19 182.26h2.3V190.27h-2.3ZM548.84 173.26h2.3V183.55h-2.3ZM551.39 183.16h2.3V190.13h-2.3ZM564.14 173.91h2.3V177.83h-2.3ZM566.69 177.80h2.3V180.48h-2.3ZM569.23 180.66h2.3V181.66h-2.3ZM571.78 181.57h2.3V186.27h-2.3ZM574.33 186.36h2.3V187.36h-2.3ZM576.88 187.24h2.3V188.24h-2.3ZM584.53 177.02h2.3V178.19h-2.3ZM587.08 178.68h2.3V182.48h-2.3ZM589.63 182.89h2.3V190.22h-2.3ZM599.83 168.53h2.3V172.22h-2.3ZM604.93 163.62h2.3V169.26h-2.3ZM607.48 168.96h2.3V177.39h-2.3ZM610.03 177.50h2.3V183.72h-2.3ZM612.57 183.83h2.3V184.83h-2.3ZM622.77 166.18h2.3V167.18h-2.3ZM625.32 167.38h2.3V171.17h-2.3ZM627.87 170.86h2.3V178.69h-2.3ZM630.42 178.16h2.3V179.16h-2.3ZM635.52 172.56h2.3V174.28h-2.3ZM645.72 157.95h2.3V167.53h-2.3ZM648.27 166.99h2.3V168.98h-2.3ZM661.01 148.35h2.3V153.52h-2.3ZM663.56 153.91h2.3V162.15h-2.3ZM666.11 162.21h2.3V164.83h-2.3ZM668.66 164.54h2.3V168.97h-2.3ZM671.21 169.25h2.3V170.91h-2.3ZM678.86 165.62h2.3V181.94h-2.3ZM681.41 181.54h2.3V185.73h-2.3ZM683.96 186.51h2.3V191.45h-2.3ZM689.06 188.60h2.3V189.82h-2.3ZM691.61 189.29h2.3V191.34h-2.3ZM696.70 188.53h2.3V200.57h-2.3ZM699.25 201.51h2.3V208.12h-2.3ZM704.35 207.08h2.3V208.82h-2.3ZM706.90 208.21h2.3V209.21h-2.3ZM712.00 205.01h2.3V217.86h-2.3ZM714.55 217.30h2.3V227.59h-2.3ZM717.10 227.89h2.3V235.79h-2.3ZM724.75 225.81h2.3V236.70h-2.3ZM727.30 236.77h2.3V246.91h-2.3ZM740.04 200.22h2.3V202.43h-2.3ZM745.14 201.10h2.3V205.19h-2.3ZM757.89 198.81h2.3V199.81h-2.3ZM760.44 199.14h2.3V200.14h-2.3ZM768.09 190.50h2.3V193.10h-2.3ZM770.64 193.57h2.3V195.05h-2.3ZM780.84 180.22h2.3V181.22h-2.3ZM783.38 181.36h2.3V185.19h-2.3ZM785.93 185.15h2.3V200.67h-2.3ZM793.58 153.59h2.3V169.48h-2.3ZM796.13 169.54h2.3V177.72h-2.3ZM798.68 177.55h2.3V179.42h-2.3ZM803.78 178.24h2.3V179.24h-2.3ZM806.33 177.80h2.3V192.41h-2.3ZM808.88 192.23h2.3V198.50h-2.3ZM811.43 198.07h2.3V201.13h-2.3ZM816.53 201.22h2.3V207.83h-2.3ZM821.63 205.26h2.3V206.26h-2.3ZM824.17 205.31h2.3V207.20h-2.3ZM831.82 202.59h2.3V204.59h-2.3ZM849.67 173.80h2.3V176.10h-2.3ZM852.22 175.60h2.3V190.45h-2.3ZM859.87 182.64h2.3V194.96h-2.3ZM862.42 194.55h2.3V200.72h-2.3ZM864.97 200.37h2.3V204.99h-2.3ZM867.51 205.04h2.3V206.16h-2.3ZM875.16 192.70h2.3V196.00h-2.3ZM885.36 182.89h2.3V184.98h-2.3ZM887.91 185.25h2.3V190.33h-2.3ZM890.46 190.41h2.3V193.13h-2.3ZM893.01 193.27h2.3V194.27h-2.3ZM895.56 194.13h2.3V200.32h-2.3ZM898.11 200.68h2.3V215.21h-2.3ZM900.66 215.10h2.3V229.33h-2.3ZM903.21 228.82h2.3V240.96h-2.3ZM905.76 241.01h2.3V248.23h-2.3ZM908.30 247.90h2.3V253.31h-2.3ZM910.85 252.89h2.3V256.23h-2.3ZM913.40 256.05h2.3V266.06h-2.3ZM915.95 265.36h2.3V274.77h-2.3ZM921.05 267.88h2.3V268.88h-2.3ZM923.60 268.62h2.3V277.17h-2.3ZM926.15 276.62h2.3V279.40h-2.3ZM933.80 250.01h2.3V254.69h-2.3ZM938.90 250.47h2.3V252.22h-2.3ZM941.45 252.71h2.3V261.62h-2.3ZM944.00 262.20h2.3V266.04h-2.3ZM956.74 248.95h2.3V251.70h-2.3ZM959.29 252.05h2.3V256.12h-2.3ZM974.59 228.04h2.3V237.73h-2.3ZM977.14 237.66h2.3V265.20h-2.3ZM979.69 265.59h2.3V285.71h-2.3ZM982.24 285.74h2.3V304.43h-2.3ZM984.79 305.15h2.3V316.29h-2.3ZM987.34 316.43h2.3V318.63h-2.3ZM992.44 312.20h2.3V313.41h-2.3ZM994.98 313.38h2.3V314.38h-2.3ZM1005.18 307.93h2.3V309.56h-2.3ZM1007.73 309.27h2.3V322.43h-2.3ZM1010.28 321.90h2.3V328.41h-2.3ZM1012.83 328.56h2.3V334.77h-2.3ZM1015.38 334.30h2.3V336.43h-2.3ZM1023.03 326.14h2.3V332.47h-2.3ZM1025.58 332.18h2.3V338.91h-2.3ZM1028.13 338.77h2.3V341.27h-2.3ZM1040.87 321.62h2.3V322.62h-2.3ZM1048.52 304.15h2.3V314.93h-2.3ZM1051.07 314.46h2.3V319.60h-2.3ZM1053.62 319.62h2.3V322.15h-2.3ZM1063.82 309.92h2.3V321.42h-2.3ZM1074.02 302.88h2.3V304.37h-2.3ZM1079.11 300.25h2.3V302.81h-2.3ZM1081.66 302.95h2.3V309.85h-2.3ZM1086.76 305.29h2.3V308.01h-2.3ZM1099.51 287.65h2.3V299.54h-2.3ZM1102.06 299.98h2.3V308.30h-2.3ZM1104.61 308.19h2.3V311.53h-2.3ZM1114.81 306.45h2.3V309.57h-2.3ZM1117.36 309.69h2.3V315.42h-2.3ZM1122.45 311.16h2.3V315.06h-2.3ZM1125.00 314.88h2.3V315.88h-2.3ZM1130.10 315.37h2.3V320.22h-2.3ZM1135.20 316.32h2.3V321.26h-2.3ZM1140.30 315.77h2.3V316.77h-2.3ZM1147.95 306.36h2.3V307.36h-2.3ZM1150.50 306.63h2.3V307.63h-2.3ZM1153.05 306.77h2.3V312.03h-2.3ZM1155.60 312.55h2.3V313.55h-2.3ZM1165.79 303.80h2.3V304.80h-2.3ZM1170.89 297.29h2.3V307.76h-2.3ZM1173.44 308.04h2.3V337.69h-2.3ZM1175.99 338.24h2.3V362.35h-2.3ZM1178.54 361.84h2.3V363.61h-2.3ZM1183.64 360.66h2.3V364.72h-2.3ZM1186.19 364.38h2.3V370.56h-2.3ZM1206.58 326.30h2.3V327.30h-2.3ZM1211.68 321.02h2.3V323.40h-2.3ZM1214.23 322.94h2.3V325.16h-2.3ZM1226.98 285.14h2.3V295.46h-2.3ZM1229.53 295.81h2.3V299.54h-2.3ZM1237.18 287.55h2.3V298.67h-2.3ZM1249.92 285.53h2.3V289.71h-2.3ZM1252.47 290.33h2.3V292.43h-2.3ZM1255.02 291.69h2.3V292.69h-2.3ZM1257.57 291.60h2.3V292.60h-2.3ZM1260.12 292.29h2.3V295.04h-2.3ZM1262.67 295.25h2.3V302.47h-2.3ZM1267.77 292.56h2.3V297.02h-2.3ZM1272.87 296.15h2.3V303.03h-2.3ZM1277.97 301.92h2.3V320.72h-2.3ZM1280.52 321.19h2.3V333.20h-2.3ZM1285.62 330.83h2.3V334.00h-2.3ZM1288.17 333.61h2.3V334.61h-2.3ZM1298.36 323.37h2.3V324.37h-2.3ZM1306.01 320.50h2.3V322.25h-2.3ZM1311.11 320.12h2.3V321.50h-2.3ZM1316.21 320.95h2.3V323.51h-2.3ZM1318.76 323.70h2.3V327.97h-2.3ZM1326.41 321.46h2.3V332.28h-2.3ZM1328.96 332.48h2.3V347.04h-2.3ZM1331.51 347.15h2.3V359.66h-2.3ZM1341.70 345.45h2.3V350.67h-2.3ZM1344.25 350.02h2.3V358.53h-2.3ZM1354.45 344.11h2.3V345.11h-2.3ZM1357.00 344.46h2.3V346.32h-2.3ZM1359.55 347.35h2.3V352.07h-2.3ZM1362.10 352.17h2.3V354.73h-2.3ZM1367.20 350.89h2.3V354.58h-2.3ZM1369.75 354.35h2.3V355.60h-2.3ZM1372.30 355.66h2.3V361.30h-2.3ZM1374.85 360.49h2.3V363.32h-2.3ZM1379.94 354.35h2.3V355.35h-2.3ZM1385.04 354.16h2.3V362.62h-2.3ZM1387.59 362.34h2.3V379.95h-2.3ZM1395.24 372.40h2.3V374.30h-2.3ZM1397.79 373.81h2.3V374.81h-2.3ZM1400.34 374.72h2.3V377.96h-2.3ZM1405.44 374.55h2.3V379.32h-2.3ZM1407.99 379.23h2.3V381.84h-2.3ZM1415.64 377.04h2.3V378.68h-2.3ZM1420.73 368.72h2.3V371.89h-2.3ZM1423.28 372.29h2.3V373.54h-2.3ZM1425.83 373.59h2.3V374.67h-2.3ZM1428.38 374.50h2.3V375.71h-2.3ZM1436.03 371.29h2.3V375.03h-2.3ZM1438.58 374.56h2.3V376.10h-2.3ZM1446.23 367.17h2.3V371.23h-2.3ZM1448.78 371.30h2.3V383.67h-2.3ZM1451.33 382.20h2.3V407.42h-2.3ZM1453.88 407.52h2.3V408.78h-2.3ZM1458.98 401.28h2.3V406.91h-2.3ZM1461.52 407.39h2.3V418.05h-2.3ZM1464.07 417.95h2.3V423.38h-2.3ZM1466.62 423.57h2.3V435.77h-2.3ZM1469.17 435.50h2.3V465.23h-2.3ZM1471.72 465.12h2.3V466.69h-2.3ZM1474.27 467.13h2.3V473.89h-2.3ZM1476.82 474.83h2.3V494.42h-2.3ZM1479.37 494.35h2.3V495.73h-2.3ZM1481.92 495.89h2.3V499.38h-2.3ZM1484.47 498.91h2.3V504.45h-2.3ZM1487.02 503.74h2.3V504.74h-2.3ZM1499.77 483.22h2.3V484.22h-2.3ZM1502.32 483.39h2.3V484.67h-2.3ZM1507.41 483.77h2.3V493.24h-2.3ZM1509.96 493.44h2.3V496.44h-2.3ZM1515.06 485.80h2.3V490.84h-2.3ZM1517.61 490.95h2.3V495.85h-2.3ZM1520.16 496.21h2.3V506.68h-2.3ZM1522.71 506.85h2.3V532.37h-2.3ZM1532.91 506.04h2.3V507.04h-2.3ZM1535.46 506.46h2.3V532.84h-2.3ZM1538.01 532.98h2.3V538.04h-2.3Z" fill="#e97461"/>
<polyline points="363,60.4 414.8,133.3 457.6,92.8" fill="none" stroke="#c9cbd3" stroke-width="1.1"/>
<line x1="3.5" y1="359.5" x2="1545.5" y2="359.5" stroke="#5b8ff0" stroke-width="2.5"/>
<polyline points="0.0,672.0 4.6,676.4 7.0,692.6 11.6,692.6 16.2,688.0 22.0,683.3 26.6,706.5 32.4,685.6 37.0,664.8 41.7,655.6 46.3,692.6 51.0,678.7 54.4,669.4 56.7,683.3 62.5,634.7 67.0,622.0 69.4,633.6 77.5,637.0 83.3,632.4 89.0,622.0 95.0,627.8 99.5,644.0 106.5,640.5 108.8,651.0 114.6,662.5 118.0,691.4 123.8,660.0 127.3,671.8 133.0,654.4 139.0,671.8 145.8,673.0 151.6,654.4 157.4,626.6 162.0,617.4 166.7,623.0 170.0,645.0 177.0,617.4 180.5,627.8 185.0,695.0 187.5,700.7 194.4,678.7 198.0,686.8 206.0,681.0 209.5,696.0 217.6,692.6 222.0,703.0 225.7,675.0 229.0,681.0 231.5,664.8 236.0,653.0 238.4,669.4 242.0,630.0 245.4,615.0 250.0,625.5 253.5,641.7 255.8,637.0 259.3,655.6 263.9,654.4 270.8,645.0 274.3,660.0 277.8,661.3 282.4,673.0 284.7,653.0 290.5,646.3 292.8,651.0 297.5,634.7 299.8,657.9 302.0,657.9 306.7,624.3 310.0,652.0 317.0,629.0 321.8,629.0 326.4,631.3 330.0,632.4 333.3,619.7 335.6,620.8 338.0,632.4 341.4,633.6 343.8,641.7 346.0,636.0 351.9,653.0 356.5,670.6 358.8,670.6 363.4,624.3 369.2,654.4 376.0,630.0 382.0,673.0 386.6,674.0 390.0,660.0 394.7,678.7 402.8,701.8 408.6,691.4 412.0,710.0 416.7,714.6 420.0,701.8 426.0,689.0 429.4,701.8 435.0,676.4 442.0,682.0 446.8,676.4 450.0,674.0 457.0,641.7 465.0,667.0 468.8,685.6 473.4,668.3 478.0,701.8 481.5,674.0 485.0,722.7 488.4,708.8 492.0,722.7 497.7,713.4 503.5,726.0 509.3,712.3 512.7,714.6 516.2,699.5 519.7,701.9 524.3,712.3 526.6,707.6 529.0,721.5 533.6,730.8 539.4,755.0 544.0,729.6 547.5,733.0 552.0,744.7 555.5,721.5 560.0,704.0 562.5,705.3 567.0,720.4 574.0,711.0 577.5,720.4 582.0,683.3 589.0,711.0 592.6,703.0 597.0,655.6 601.9,659.0 605.3,645.0 606.5,657.9 611.0,699.5 615.7,674.0 620.4,662.5 628.5,684.5 632.0,683.3 636.6,685.6 641.0,689.0 643.5,662.5 648.0,669.4 651.6,676.4 654.0,671.8 658.6,632.4 662.0,667.0 665.5,674.0 669.0,684.5 672.5,670.6 677.0,695.0 681.7,705.3 685.0,706.5 690.0,714.6 693.3,701.8 698.0,710.0 702.5,723.8 706.0,718.0 710.6,732.0 715.3,755.0 718.8,732.0 723.4,718.0 726.8,738.9 729.0,736.6 732.6,681.0 736.0,667.0 740.7,670.6 743.0,679.9 748.8,669.4 754.6,663.7 759.3,668.3 763.9,670.6 766.2,652.0 772.0,663.7 775.5,659.0 779.0,637.0 782.4,655.6 787.0,695.0 791.7,632.4 794.0,657.9 797.5,666.0 803.0,667.0 806.7,690.3 811.3,697.2 814.8,691.4 818.3,700.7 825.0,685.6 828.7,689.0 833.3,691.4 836.8,685.6 843.8,642.8 846.0,648.6 848.4,642.8 853.0,684.5 856.5,669.4 858.8,670.6 863.4,699.5 865.7,691.4 868.0,690.3 871.5,671.8 875.0,673.0 879.6,666.0 884.0,668.3 888.9,668.3 892.4,691.4 894.7,695.0 899.3,733.0 902.8,750.5 909.7,757.4 912.0,751.6 914.4,762.0 920.0,738.9 922.5,740.0 928.0,749.3 931.7,706.5 935.0,706.5 941.0,713.4 944.4,721.5 946.8,720.4 950.0,699.5 956.0,682.0 957.2,688.0 963.0,681.0 968.8,659.0 972.0,642.8 973.4,655.6 978.0,720.4 981.5,736.6 986.0,748.0 993.0,736.6 995.4,741.2 998.8,732.0 1003.5,726.0 1008.0,739.0 1012.7,748.0 1018.5,729.6 1024.3,737.7 1029.0,743.5 1032.4,721.5 1034.7,734.3 1037.0,705.3 1044.0,675.2 1047.5,686.8 1049.8,681.0 1054.4,670.6 1057.9,678.7 1063.7,676.4 1067.0,681.0 1069.4,649.8 1072.9,668.3 1076.4,669.4 1079.9,666.0 1084.5,684.5 1089.0,660.2 1092.6,662.5 1094.9,644.0 1098.4,660.2 1103.0,695.0 1106.5,695.0 1108.8,684.5 1112.3,690.3 1115.7,681.0 1119.2,690.3 1123.8,695.0 1128.5,706.5 1132.0,680.0 1136.6,699.5 1142.4,680.0 1144.7,675.2 1149.3,657.9 1151.6,675.2 1154.0,661.3 1156.2,683.3 1162.0,666.0 1166.7,654.4 1170.0,662.5 1173.6,737.7 1177.0,734.3 1180.5,736.6 1184.0,726.0 1186.3,734.3 1192.0,714.6 1195.6,706.5 1199.0,685.6 1202.5,681.0 1204.9,673.0 1208.3,667.0 1211.8,657.9 1216.4,674.0 1220.0,648.6 1224.5,623.0 1228.0,654.4 1232.6,637.0 1240.7,656.7 1245.4,655.6 1250.0,647.5 1253.5,661.3 1258.0,660.2 1261.6,668.3 1265.0,674.0 1268.5,667.0 1273.0,676.4 1277.3,678.7 1280.0,722.7 1281.2,733.0 1284.7,718.0 1289.4,713.4 1294.0,700.7 1297.5,704.0 1302.0,690.3 1305.5,691.4 1309.0,683.3 1312.0,698.4 1314.4,676.4 1317.0,690.3 1320.6,680.0 1323.6,681.0 1329.9,734.3 1332.9,743.5 1338.0,696.0 1339.8,719.2 1342.6,689.0 1347.2,698.4 1355.3,690.3 1358.8,698.4 1363.4,705.3 1366.9,700.7 1370.4,704.0 1373.8,718.0 1377.3,701.9 1380.8,703.0 1384.3,684.5 1388.2,726.0 1391.2,701.9 1395.8,712.3 1400.5,693.8 1404.0,704.0 1408.6,714.6 1413.2,696.0 1419.0,704.0 1422.5,684.5 1426.0,689.0 1430.5,682.2 1435.2,693.8 1441.0,679.9 1444.4,678.7 1449.0,697.2 1452.5,732.0 1456.0,725.0 1458.3,726.0 1461.8,745.8 1466.4,757.4 1470.0,776.0 1476.9,785.0 1480.3,766.7 1482.6,771.3 1487.3,760.9 1491.9,757.4 1496.5,742.4 1501.2,732.0 1503.5,734.3 1505.8,723.8 1508.1,741.2 1511.6,712.3 1516.2,713.4 1518.5,719.2 1522.0,751.6 1526.6,711.0 1530.0,713.4 1532.4,711.0 1538.2,732.0 1541.2,701.9 1544.0,704.0" fill="none" stroke="#7c5cc6" stroke-width="1.25" stroke-linejoin="round"/>
<line x1="996" y1="348" x2="1236" y2="386.6" stroke="#f04848" stroke-width="3" stroke-linecap="round"/>
<line x1="981.5" y1="756.7" x2="1252.3" y2="734.3" stroke="#f04848" stroke-width="3" stroke-linecap="round"/>
<line x1="1047" y1="519" x2="1172" y2="398" stroke="#ffffff" stroke-width="1"/>
<line x1="1062" y1="564" x2="1168" y2="732" stroke="#ffffff" stroke-width="1"/>
<text x="629.4" y="451.5" font-size="25" fill="#ffffff" stroke="#ffffff" stroke-width="1.0" textLength="126.3" lengthAdjust="spacingAndGlyphs" style="font-family:'DejaVu Sans Condensed','DejaVu Sans','Liberation Sans',sans-serif;font-stretch:condensed">Отбойный</text>
<text x="762.0" y="451.5" font-size="25" fill="#ffffff" stroke="#ffffff" stroke-width="1.0" textLength="92.6" lengthAdjust="spacingAndGlyphs" style="font-family:'DejaVu Sans Condensed','DejaVu Sans','Liberation Sans',sans-serif;font-stretch:condensed">сигнал:</text>
<text x="630.1" y="484.6" font-size="25" fill="#ffffff" stroke="#ffffff" stroke-width="1.0" textLength="11.8" lengthAdjust="spacingAndGlyphs" style="font-family:'DejaVu Sans Condensed','DejaVu Sans','Liberation Sans',sans-serif;font-stretch:condensed">-</text>
<text x="649.4" y="484.6" font-size="25" fill="#ffffff" stroke="#ffffff" stroke-width="1.0" textLength="101.1" lengthAdjust="spacingAndGlyphs" style="font-family:'DejaVu Sans Condensed','DejaVu Sans','Liberation Sans',sans-serif;font-stretch:condensed">касание</text>
<text x="756.4" y="484.6" font-size="25" fill="#ffffff" stroke="#ffffff" stroke-width="1.0" textLength="87.0" lengthAdjust="spacingAndGlyphs" style="font-family:'DejaVu Sans Condensed','DejaVu Sans','Liberation Sans',sans-serif;font-stretch:condensed">уровня</text>
<text x="846.4" y="484.6" font-size="25" fill="#ffffff" stroke="#ffffff" stroke-width="1.0" textLength="72.0" lengthAdjust="spacingAndGlyphs" style="font-family:'DejaVu Sans Condensed','DejaVu Sans','Liberation Sans',sans-serif;font-stretch:condensed">3,618;</text>
<text x="630.1" y="517.9" font-size="25" fill="#ffffff" stroke="#ffffff" stroke-width="1.0" textLength="11.8" lengthAdjust="spacingAndGlyphs" style="font-family:'DejaVu Sans Condensed','DejaVu Sans','Liberation Sans',sans-serif;font-stretch:condensed">-</text>
<text x="648.9" y="517.9" font-size="25" fill="#ffffff" stroke="#ffffff" stroke-width="1.0" textLength="167.2" lengthAdjust="spacingAndGlyphs" style="font-family:'DejaVu Sans Condensed','DejaVu Sans','Liberation Sans',sans-serif;font-stretch:condensed">дивергенция</text>
<text x="820.8" y="517.9" font-size="25" fill="#ffffff" stroke="#ffffff" stroke-width="1.0" textLength="31.1" lengthAdjust="spacingAndGlyphs" style="font-family:'DejaVu Sans Condensed','DejaVu Sans','Liberation Sans',sans-serif;font-stretch:condensed">на</text>
<text x="858.0" y="517.9" font-size="25" fill="#ffffff" stroke="#ffffff" stroke-width="1.0" textLength="50.3" lengthAdjust="spacingAndGlyphs" style="font-family:'DejaVu Sans Condensed','DejaVu Sans','Liberation Sans',sans-serif;font-stretch:condensed">RSI;</text>
<text x="630.1" y="550.7" font-size="25" fill="#ffffff" stroke="#ffffff" stroke-width="1.0" textLength="11.8" lengthAdjust="spacingAndGlyphs" style="font-family:'DejaVu Sans Condensed','DejaVu Sans','Liberation Sans',sans-serif;font-stretch:condensed">-</text>
<text x="648.9" y="550.7" font-size="25" fill="#ffffff" stroke="#ffffff" stroke-width="1.0" textLength="81.9" lengthAdjust="spacingAndGlyphs" style="font-family:'DejaVu Sans Condensed','DejaVu Sans','Liberation Sans',sans-serif;font-stretch:condensed">выход</text>
<text x="735.5" y="550.7" font-size="25" fill="#ffffff" stroke="#ffffff" stroke-width="1.0" textLength="43.4" lengthAdjust="spacingAndGlyphs" style="font-family:'DejaVu Sans Condensed','DejaVu Sans','Liberation Sans',sans-serif;font-stretch:condensed">RSI</text>
<text x="785.1" y="550.7" font-size="25" fill="#ffffff" stroke="#ffffff" stroke-width="1.0" textLength="28.2" lengthAdjust="spacingAndGlyphs" style="font-family:'DejaVu Sans Condensed','DejaVu Sans','Liberation Sans',sans-serif;font-stretch:condensed">из</text>
<text x="819.5" y="550.7" font-size="25" fill="#ffffff" stroke="#ffffff" stroke-width="1.0" textLength="233.3" lengthAdjust="spacingAndGlyphs" style="font-family:'DejaVu Sans Condensed','DejaVu Sans','Liberation Sans',sans-serif;font-stretch:condensed">перепроданности.</text>
<rect x="1545.5" y="0" width="53.5" height="828.4" fill="#181a25"/>
<rect x="0" y="803.3" width="1599" height="60.700000000000045" fill="#161823"/>
<rect x="0" y="828.4" width="1599" height="35.60000000000002" fill="#151721"/>
<line x1="0" y1="593.5" x2="1599" y2="593.5" stroke="#2b2e3a" stroke-width="1"/>
<line x1="0" y1="803.3" x2="1599" y2="803.3" stroke="#2b2e3a" stroke-width="1"/>
<line x1="0" y1="828.4" x2="1599" y2="828.4" stroke="#2b2e3a" stroke-width="1"/>
<line x1="1545.5" y1="0" x2="1545.5" y2="828.4" stroke="#2b2e3a" stroke-width="1"/>
<line x1="2.5" y1="0" x2="2.5" y2="864" stroke="#2b2e3a" stroke-width="2"/>
<line x1="0" y1="863.5" x2="1599" y2="863.5" stroke="#2b2e3a" stroke-width="1"/>
<text x="1554.2" y="48.8" font-size="11.1" fill="#b2b5be" stroke="#b2b5be" stroke-width="0.3" textLength="37" lengthAdjust="spacingAndGlyphs">1.19200</text>
<text x="1554.2" y="76.8" font-size="11.1" fill="#b2b5be" stroke="#b2b5be" stroke-width="0.3" textLength="37" lengthAdjust="spacingAndGlyphs">1.19000</text>
<text x="1554.2" y="104.8" font-size="11.1" fill="#b2b5be" stroke="#b2b5be" stroke-width="0.3" textLength="37" lengthAdjust="spacingAndGlyphs">1.18800</text>
<text x="1554.2" y="132.8" font-size="11.1" fill="#b2b5be" stroke="#b2b5be" stroke-width="0.3" textLength="37" lengthAdjust="spacingAndGlyphs">1.18600</text>
<text x="1554.2" y="160.8" font-size="11.1" fill="#b2b5be" stroke="#b2b5be" stroke-width="0.3" textLength="37" lengthAdjust="spacingAndGlyphs">1.18400</text>
<text x="1554.2" y="188.8" font-size="11.1" fill="#b2b5be" stroke="#b2b5be" stroke-width="0.3" textLength="37" lengthAdjust="spacingAndGlyphs">1.18200</text>
<text x="1554.2" y="216.8" font-size="11.1" fill="#b2b5be" stroke="#b2b5be" stroke-width="0.3" textLength="37" lengthAdjust="spacingAndGlyphs">1.18000</text>
<text x="1554.2" y="244.8" font-size="11.1" fill="#b2b5be" stroke="#b2b5be" stroke-width="0.3" textLength="37" lengthAdjust="spacingAndGlyphs">1.17800</text>
<text x="1554.2" y="272.8" font-size="11.1" fill="#b2b5be" stroke="#b2b5be" stroke-width="0.3" textLength="37" lengthAdjust="spacingAndGlyphs">1.17600</text>
<text x="1554.2" y="300.8" font-size="11.1" fill="#b2b5be" stroke="#b2b5be" stroke-width="0.3" textLength="37" lengthAdjust="spacingAndGlyphs">1.17400</text>
<text x="1554.2" y="328.8" font-size="11.1" fill="#b2b5be" stroke="#b2b5be" stroke-width="0.3" textLength="37" lengthAdjust="spacingAndGlyphs">1.17200</text>
<text x="1554.2" y="356.8" font-size="11.1" fill="#b2b5be" stroke="#b2b5be" stroke-width="0.3" textLength="37" lengthAdjust="spacingAndGlyphs">1.17000</text>
<text x="1554.2" y="384.8" font-size="11.1" fill="#b2b5be" stroke="#b2b5be" stroke-width="0.3" textLength="37" lengthAdjust="spacingAndGlyphs">1.16800</text>
<text x="1554.2" y="412.8" font-size="11.1" fill="#b2b5be" stroke="#b2b5be" stroke-width="0.3" textLength="37" lengthAdjust="spacingAndGlyphs">1.16600</text>
<text x="1554.2" y="440.8" font-size="11.1" fill="#b2b5be" stroke="#b2b5be" stroke-width="0.3" textLength="37" lengthAdjust="spacingAndGlyphs">1.16400</text>
<text x="1554.2" y="468.8" font-size="11.1" fill="#b2b5be" stroke="#b2b5be" stroke-width="0.3" textLength="37" lengthAdjust="spacingAndGlyphs">1.16200</text>
<text x="1554.2" y="496.8" font-size="11.1" fill="#b2b5be" stroke="#b2b5be" stroke-width="0.3" textLength="37" lengthAdjust="spacingAndGlyphs">1.16000</text>
<text x="1554.2" y="524.8" font-size="11.1" fill="#b2b5be" stroke="#b2b5be" stroke-width="0.3" textLength="37" lengthAdjust="spacingAndGlyphs">1.15800</text>
<text x="1554.2" y="552.8" font-size="11.1" fill="#b2b5be" stroke="#b2b5be" stroke-width="0.3" textLength="37" lengthAdjust="spacingAndGlyphs">1.15600</text>
<text x="1554.2" y="580.8" font-size="11.1" fill="#b2b5be" stroke="#b2b5be" stroke-width="0.3" textLength="37" lengthAdjust="spacingAndGlyphs">1.15400</text>
<clipPath id="rc"><rect x="1546" y="594.0" width="60" height="208.79999999999995"/></clipPath>
<g clip-path="url(#rc)">
<text x="1555" y="600.8" font-size="11.1" fill="#b2b5be" stroke="#b2b5be" stroke-width="0.3" textLength="25.6" lengthAdjust="spacingAndGlyphs">80.00</text>
<text x="1555" y="628.6" font-size="11.1" fill="#b2b5be" stroke="#b2b5be" stroke-width="0.3" textLength="25.6" lengthAdjust="spacingAndGlyphs">70.00</text>
<text x="1555" y="656.4" font-size="11.1" fill="#b2b5be" stroke="#b2b5be" stroke-width="0.3" textLength="25.6" lengthAdjust="spacingAndGlyphs">60.00</text>
<text x="1555" y="684.2" font-size="11.1" fill="#b2b5be" stroke="#b2b5be" stroke-width="0.3" textLength="25.6" lengthAdjust="spacingAndGlyphs">50.00</text>
<text x="1555" y="712.0" font-size="11.1" fill="#b2b5be" stroke="#b2b5be" stroke-width="0.3" textLength="25.6" lengthAdjust="spacingAndGlyphs">40.00</text>
<text x="1555" y="739.8" font-size="11.1" fill="#b2b5be" stroke="#b2b5be" stroke-width="0.3" textLength="25.6" lengthAdjust="spacingAndGlyphs">30.00</text>
<text x="1555" y="767.6" font-size="11.1" fill="#b2b5be" stroke="#b2b5be" stroke-width="0.3" textLength="25.6" lengthAdjust="spacingAndGlyphs">20.00</text>
<text x="1555" y="795.4" font-size="11.1" fill="#b2b5be" stroke="#b2b5be" stroke-width="0.3" textLength="25.6" lengthAdjust="spacingAndGlyphs">10.00</text>
</g>
<rect x="1544.5" y="352.3" width="53" height="14.8" fill="#5c8ef2"/>
<text x="1554.2" y="363.7" font-size="11.1" fill="#ffffff" stroke="#ffffff" stroke-width="0.3" textLength="37" lengthAdjust="spacingAndGlyphs">1.16951</text>
<rect x="1544.5" y="509.1" width="52.5" height="14.6" fill="#e2725c"/>
<text x="1554.2" y="520.8" font-size="11.1" fill="#ffffff" stroke="#ffffff" stroke-width="0.3" textLength="37" lengthAdjust="spacingAndGlyphs">1.15833</text>
<rect x="1556.5" y="5.5" width="34" height="18" rx="3" fill="#181a25" stroke="#363a46"/>
<text x="1561" y="18" font-size="11" fill="#d1d4dc" textLength="19.5" lengthAdjust="spacingAndGlyphs">USD</text>
<path d="M1583.5 13.5l2 2 2-2" stroke="#d1d4dc" fill="none" stroke-width="1"/>
<text x="80.3" y="818.8" font-size="11" fill="#b2b5be" stroke="#b2b5be" stroke-width="0.25" text-anchor="middle">30</text>
<text x="202.7" y="818.8" font-size="11" fill="#b2b5be" stroke="#b2b5be" stroke-width="0.25" text-anchor="middle" font-weight="bold">Sep</text>
<text x="294.4" y="818.8" font-size="11" fill="#b2b5be" stroke="#b2b5be" stroke-width="0.25" text-anchor="middle">12:00</text>
<text x="386.2" y="818.8" font-size="11" fill="#b2b5be" stroke="#b2b5be" stroke-width="0.25" text-anchor="middle">6</text>
<text x="508.6" y="818.8" font-size="11" fill="#b2b5be" stroke="#b2b5be" stroke-width="0.25" text-anchor="middle">8</text>
<text x="600.4" y="818.8" font-size="11" fill="#b2b5be" stroke="#b2b5be" stroke-width="0.25" text-anchor="middle">12:00</text>
<text x="692.2" y="818.8" font-size="11" fill="#b2b5be" stroke="#b2b5be" stroke-width="0.25" text-anchor="middle">13</text>
<text x="814.5" y="818.8" font-size="11" fill="#b2b5be" stroke="#b2b5be" stroke-width="0.25" text-anchor="middle">15</text>
<text x="906.3" y="818.8" font-size="11" fill="#b2b5be" stroke="#b2b5be" stroke-width="0.25" text-anchor="middle">12:00</text>
<text x="998.1" y="818.8" font-size="11" fill="#b2b5be" stroke="#b2b5be" stroke-width="0.25" text-anchor="middle">20</text>
<text x="1120.5" y="818.8" font-size="11" fill="#b2b5be" stroke="#b2b5be" stroke-width="0.25" text-anchor="middle">22</text>
<text x="1212.2" y="818.8" font-size="11" fill="#b2b5be" stroke="#b2b5be" stroke-width="0.25" text-anchor="middle">12:00</text>
<text x="1304.0" y="818.8" font-size="11" fill="#b2b5be" stroke="#b2b5be" stroke-width="0.25" text-anchor="middle">27</text>
<text x="1426.4" y="818.8" font-size="11" fill="#b2b5be" stroke="#b2b5be" stroke-width="0.25" text-anchor="middle">29</text>
<g transform="translate(1573.6,815.6)" stroke="#9598a1" fill="none" stroke-width="1"><circle r="3.8"/><line x1="4.80" y1="0.00" x2="6.30" y2="0.00"/><line x1="3.39" y1="3.39" x2="4.45" y2="4.45"/><line x1="0.00" y1="4.80" x2="0.00" y2="6.30"/><line x1="-3.39" y1="3.39" x2="-4.45" y2="4.45"/><line x1="-4.80" y1="0.00" x2="-6.30" y2="0.00"/><line x1="-3.39" y1="-3.39" x2="-4.45" y2="-4.45"/><line x1="-0.00" y1="-4.80" x2="-0.00" y2="-6.30"/><line x1="3.39" y1="-3.39" x2="4.45" y2="-4.45"/></g>
<text x="26" y="850.5" font-size="12" fill="#c3c6ce" text-anchor="middle">1D</text>
<text x="52.5" y="850.5" font-size="12" fill="#c3c6ce" text-anchor="middle">5D</text>
<text x="80.5" y="850.5" font-size="12" fill="#c3c6ce" text-anchor="middle">1M</text>
<text x="108" y="850.5" font-size="12" fill="#c3c6ce" text-anchor="middle">3M</text>
<text x="136.5" y="850.5" font-size="12" fill="#c3c6ce" text-anchor="middle">6M</text>
<text x="168" y="850.5" font-size="12" fill="#c3c6ce" text-anchor="middle">YTD</text>
<text x="198" y="850.5" font-size="12" fill="#c3c6ce" text-anchor="middle">1Y</text>
<text x="224.5" y="850.5" font-size="12" fill="#c3c6ce" text-anchor="middle">5Y</text>
<text x="251.5" y="850.5" font-size="12" fill="#c3c6ce" text-anchor="middle">All</text>
<line x1="274.5" y1="834" x2="274.5" y2="857" stroke="#2b2e3a"/>
<g stroke="#c3c6ce" fill="none" stroke-width="1.1"><path d="M296.8 852H302.2a1.5 1.5 0 0 0 1.5-1.5V841.7a1.5 1.5 0 0 0 -1.5-1.5H291.6a1.5 1.5 0 0 0 -1.5 1.5V845.2"/><path d="M290.1 843.8H303.7"/><path d="M293.6 838.8v2M300.4 838.8v2"/><path d="M288.8 849.2H295.2M293 847L295.2 849.2L293 851.4"/></g>
<text x="1483" y="850.5" font-size="12.5" fill="#c3c6ce" text-anchor="end">23:18:17 (UTC+3)</text>
<line x1="1497.8" y1="834" x2="1497.8" y2="857" stroke="#2b2e3a"/>
<text x="1519" y="850.5" font-size="12.5" fill="#c3c6ce" text-anchor="middle">%</text>
<text x="1546.5" y="850.5" font-size="12.5" fill="#c3c6ce" text-anchor="middle">log</text>
<text x="1580" y="850.5" font-size="12.5" fill="#3d4cf5" text-anchor="middle">auto</text>
<circle cx="1517" cy="786" r="12" fill="#1f2129"/>
<path d="M1514 780.3l4 5.4-4 5.4M1518.6 780.3l4 5.4-4 5.4" stroke="#d1d4dc" stroke-width="1.7" fill="none"/>
<circle cx="24.9" cy="783.3" r="14.3" fill="#161822" stroke="#272a36" stroke-width="1"/>
<path d="M15.9 778.7H24.4V788.4H19.9V782H15.9Z M29.6 778.7H35.2L31.9 788.4H26.6Z" fill="#ffffff"/><circle cx="26.5" cy="780.4" r="1.7" fill="#ffffff"/>
<text x="12.3" y="19.8" font-size="13.6" fill="#d1d4dc" textLength="196.5" lengthAdjust="spacingAndGlyphs">Euro / U.S. Dollar · 1h · OANDA</text>
<rect x="222.2" y="6" width="34.4" height="16" rx="7.5" fill="#2b2d39"/>
<path d="M240 6h9.1a7.5 7.5 0 0 1 7.5 7.5v1a7.5 7.5 0 0 1 -7.5 7.5h-9.1z" fill="#301f31"/>
<rect x="227.5" y="12.5" width="8.5" height="3.3" rx="1.6" fill="#c9ccd6"/>
<path d="M243.8 13.6q2.2 -1.7 4.4 0t4.4 0M243.8 17.2q2.2 -1.7 4.4 0t4.4 0" stroke="#cf4b82" stroke-width="1.6" fill="none"/>
<text x="272.5" y="19.6" font-size="12" fill="#d1d4dc" textLength="50.5" lengthAdjust="spacingAndGlyphs">O<tspan fill="#e2725c">1.13170</tspan></text>
<text x="328" y="19.6" font-size="12" fill="#d1d4dc" textLength="49" lengthAdjust="spacingAndGlyphs">H<tspan fill="#e2725c">1.13286</tspan></text>
<text x="382.5" y="19.6" font-size="12" fill="#d1d4dc" textLength="48.5" lengthAdjust="spacingAndGlyphs">L<tspan fill="#e2725c">1.13070</tspan></text>
<text x="436" y="19.6" font-size="12" fill="#d1d4dc" textLength="49" lengthAdjust="spacingAndGlyphs">C<tspan fill="#e2725c">1.13105</tspan></text>
<text x="491" y="19.6" font-size="12" fill="#e2725c" textLength="94" lengthAdjust="spacingAndGlyphs">−0.00065 (−0.06%)</text>
<rect x="12.5" y="29.3" width="53.5" height="20.3" rx="3" fill="none" stroke="#8e3a33" stroke-width="1"/>
<text x="20.3" y="43.6" font-size="11" fill="#d85b4d" textLength="34" lengthAdjust="spacingAndGlyphs">1.1305</text>
<text x="54.8" y="40.3" font-size="8" fill="#d85b4d">5</text>
<text x="73.7" y="42.7" font-size="9.5" font-weight="bold" fill="#d1d4dc" textLength="19" lengthAdjust="spacingAndGlyphs">10.0</text>
<rect x="100.6" y="29.3" width="54.4" height="20.3" rx="3" fill="none" stroke="#3535c8" stroke-width="1"/>
<text x="108" y="43.6" font-size="11" fill="#5050e6" textLength="34.8" lengthAdjust="spacingAndGlyphs">1.1315</text>
<text x="143" y="40.3" font-size="8" fill="#5050e6">5</text>
<text x="12.8" y="611.7" font-size="11.7" fill="#d1d4dc" textLength="15" lengthAdjust="spacingAndGlyphs">RSI</text>
<text x="35.3" y="611.7" font-size="11.7" fill="#7e57c2" textLength="28.3" lengthAdjust="spacingAndGlyphs">42.41</text>
<text x="69.8" y="611.7" font-size="11.7" fill="#d1d4dc" textLength="42.8" lengthAdjust="spacingAndGlyphs">n/a n/a</text>
</svg></body></html>
